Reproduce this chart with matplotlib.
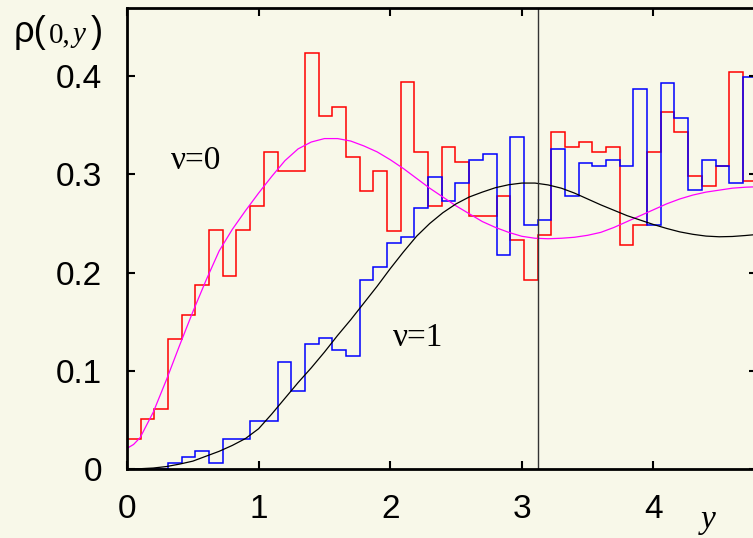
import numpy as np
import matplotlib
matplotlib.use("Agg")
import matplotlib.pyplot as plt

# Histogram bin width and bin contents (nu = 0 in red, nu = 1 in blue)
BIN_WIDTH = 0.104
red_hist = [0.031, 0.051, 0.061, 0.132, 0.157, 0.187, 0.243, 0.197, 0.243, 0.268,
            0.323, 0.303, 0.303, 0.424, 0.359, 0.369, 0.318, 0.283, 0.303, 0.242,
            0.394, 0.323, 0.268, 0.328, 0.313, 0.258, 0.258, 0.278, 0.233, 0.192,
            0.238, 0.343, 0.328, 0.333, 0.323, 0.328, 0.228, 0.248, 0.323, 0.364,
            0.343, 0.298, 0.288, 0.309, 0.404, 0.293]
blue_hist = [0.0, 0.0, 0.0, 0.006, 0.012, 0.018, 0.006, 0.031, 0.031, 0.049,
             0.049, 0.109, 0.079, 0.127, 0.133, 0.121, 0.115, 0.192, 0.206, 0.230,
             0.236, 0.266, 0.297, 0.273, 0.291, 0.315, 0.321, 0.218, 0.338, 0.249,
             0.254, 0.326, 0.278, 0.312, 0.309, 0.315, 0.309, 0.387, 0.249, 0.393,
             0.357, 0.284, 0.315, 0.309, 0.291, 0.399]

# Analytic densities
nu0_x = [0.0, 0.05] + [round(0.1 * k, 1) for k in range(1, 49)]
nu0_rho = [0.021, 0.025, 0.032, 0.058, 0.091, 0.126, 0.160, 0.192, 0.222, 0.244,
           0.263, 0.281, 0.298, 0.314, 0.326, 0.333, 0.3365, 0.3365, 0.334, 0.329,
           0.323, 0.315, 0.306, 0.296, 0.286, 0.277, 0.268, 0.260, 0.252, 0.246,
           0.241, 0.237, 0.235, 0.2345, 0.235, 0.236, 0.238, 0.241, 0.246, 0.252,
           0.258, 0.264, 0.270, 0.275, 0.279, 0.282, 0.284, 0.286, 0.287, 0.2875]
nu1_x = [round(0.1 * k, 1) for k in range(0, 49)]
nu1_rho = [0.0, 0.0003, 0.001, 0.0025, 0.005, 0.008, 0.013, 0.018, 0.024, 0.031,
           0.041, 0.056, 0.072, 0.088, 0.103, 0.119, 0.136, 0.152, 0.169, 0.186,
           0.204, 0.221, 0.237, 0.250, 0.261, 0.270, 0.277, 0.282, 0.2865, 0.2895,
           0.2912, 0.2912, 0.2893, 0.286, 0.281, 0.275, 0.269, 0.2635, 0.258, 0.2535,
           0.249, 0.245, 0.2415, 0.239, 0.2372, 0.2365, 0.2368, 0.2378, 0.239]

divider_x = 30 * BIN_WIDTH

x_ticks = [0, 1, 2, 3, 4]
x_labels = ["0", "1", "2", "3", "4"]
y_ticks = [0, 0.1, 0.2, 0.3, 0.4]
y_labels = ["0", "0.1", "0.2", "0.3", "0.4"]

BG = "#f8f8e9"
W, H = 753, 538

fig = plt.figure(figsize=(W / 100, H / 100), dpi=100, facecolor=BG)
ax = fig.add_axes([127 / W, 69 / H, 630 / W, 461.5 / H], facecolor=BG)

edges = np.arange(len(red_hist) + 1) * BIN_WIDTH
ax.stairs(red_hist, edges, baseline=None, color="#ff0000", lw=1.1)
ax.stairs(blue_hist, edges, baseline=None, color="#0000ff", lw=1.1)
ax.plot(nu0_x, nu0_rho, color="#ff00ff", lw=0.9)
ax.plot(nu1_x, nu1_rho, color="black", lw=0.9)
ax.axvline(divider_x, color="#333333", lw=1.0)

ax.set_xlim(0, 4.787)
ax.set_ylim(0, 0.47)
ax.set_xticks(x_ticks)
ax.set_xticklabels(x_labels)
ax.set_yticks(y_ticks)
ax.set_yticklabels(y_labels)
for lab in ax.get_xticklabels() + ax.get_yticklabels():
    lab.set_fontfamily("Liberation Sans")
    lab.set_fontsize(24)
ax.tick_params(direction="in", length=6, width=1.5, top=True, right=True,
               colors="black")
ax.tick_params(axis="x", pad=18)
ax.tick_params(axis="y", pad=18)
for sp in ax.spines.values():
    sp.set_linewidth(2.0)
    sp.set_color("black")

serif = "Liberation Serif"
ax.text(0.528, 0.306, "ν=0", family=serif, fontsize=24, ha="center",
        va="baseline")
ax.text(2.215, 0.125, "ν=1", family=serif, fontsize=24, ha="center",
        va="baseline")

# axis label for y (horizontal axis variable)
fig.text(708 / W, 1 - 528 / H, "y", family=serif, style="italic", fontsize=24,
         ha="center", va="baseline")

# rho(0,y) label, assembled from pieces
base = 1 - 42 / H
fig.text(14 / W, base, "ρ(", family="Liberation Sans", fontsize=26,
         va="baseline")
fig.text(49 / W, base, "0,", family=serif, fontsize=21, va="baseline")
fig.text(72 / W, base, "y", family=serif, style="italic", fontsize=21,
         va="baseline")
fig.text(91 / W, base, ")", family="Liberation Sans", fontsize=26,
         va="baseline")

fig.savefig("out.png", dpi=100, facecolor=BG)
